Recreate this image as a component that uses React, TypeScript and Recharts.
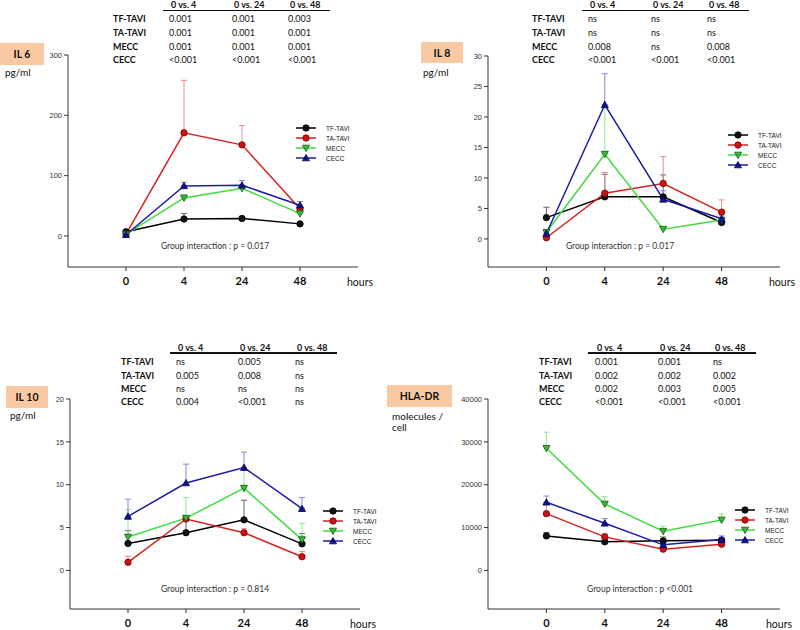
import React from 'react';
import { LineChart, Line, XAxis, YAxis, ErrorBar, Legend } from 'recharts';

// time points (hours after procedure)
const hours = ['0', '4', '24', '48'];
const groups = ['TF-TAVI', 'TA-TAVI', 'MECC', 'CECC'];
const comparisons = ['0 vs. 4', '0 vs. 24', '0 vs. 48'];

// IL 6 (pg/ml), mean and upper error
const il6TfTavi = [7, 28, 29, 20];
const il6TfTaviErr = [2, 9, 2, 2];
const il6TaTavi = [3, 171, 151, 45];
const il6TaTaviErr = [1, 87, 32, 3];
const il6Mecc = [3, 63, 79, 37];
const il6MeccErr = [1, 6, 4, 3];
const il6Cecc = [2, 83, 84, 51];
const il6CeccErr = [1, 6, 8, 6];
const il6Ticks = [0, 100, 200, 300];
const il6P = [
  ['0.001', '0.001', '0.003'],
  ['0.001', '0.001', '0.001'],
  ['0.001', '0.001', '0.001'],
  ['<0.001', '<0.001', '<0.001'],
];

// IL 8 (pg/ml)
const il8TfTavi = [3.5, 6.9, 6.9, 2.7];
const il8TfTaviErr = [1.7, 3.7, 3.6, 0.4];
const il8TaTavi = [0.2, 7.5, 9.1, 4.4];
const il8TaTaviErr = [0.2, 3.4, 4.4, 2.0];
const il8Mecc = [1.1, 13.9, 1.6, 3.1];
const il8MeccErr = [0.3, 8.0, 0.4, 0.3];
const il8Cecc = [0.9, 22.0, 6.5, 3.3];
const il8CeccErr = [0.4, 5.1, 1.4, 0.6];
const il8Ticks = [0, 5, 10, 15, 20, 25, 30];
const il8P = [
  ['ns', 'ns', 'ns'],
  ['ns', 'ns', 'ns'],
  ['0.008', 'ns', '0.008'],
  ['<0.001', '<0.001', '<0.001'],
];

// IL 10 (pg/ml)
const il10TfTavi = [3.15, 4.4, 5.9, 3.1];
const il10TfTaviErr = [1.5, 1.5, 2.3, 1.2];
const il10TaTavi = [0.95, 6.0, 4.4, 1.6];
const il10TaTaviErr = [0.7, 0.3, 0.5, 0.6];
const il10Mecc = [3.9, 6.1, 9.6, 3.6];
const il10MeccErr = [3.2, 2.4, 2.3, 1.9];
const il10Cecc = [6.3, 10.2, 12.0, 7.2];
const il10CeccErr = [2.0, 2.2, 1.8, 1.3];
const il10Ticks = [0, 5, 10, 15, 20];
const il10P = [
  ['ns', '0.005', 'ns'],
  ['0.005', '0.008', 'ns'],
  ['ns', 'ns', 'ns'],
  ['0.004', '<0.001', 'ns'],
];

// HLA-DR (molecules / cell)
const hlaTfTavi = [8060, 6670, 6900, 7050];
const hlaTfTaviErr = [800, 400, 900, 500];
const hlaTaTavi = [13250, 7830, 4960, 6120];
const hlaTaTaviErr = [2500, 800, 500, 400];
const hlaMecc = [28500, 15500, 9150, 11780];
const hlaMeccErr = [3750, 1700, 1150, 1400];
const hlaCecc = [15900, 11000, 5970, 7200];
const hlaCeccErr = [1460, 1100, 400, 860];
const hlaTicks = [0, 10000, 20000, 30000, 40000];
const hlaP = [
  ['0.001', '0.001', 'ns'],
  ['0.002', '0.002', '0.002'],
  ['0.002', '0.003', '0.005'],
  ['<0.001', '<0.001', '<0.001'],
];

const series = [
  { key: 'tf', name: groups[0], line: '#000000', err: '#666666', fill: '#111111', stroke: '#000000', shape: 'circle' },
  { key: 'ta', name: groups[1], line: '#d62222', err: '#e58f8f', fill: '#d01010', stroke: '#7a0000', shape: 'circle' },
  { key: 'mecc', name: groups[2], line: '#40dc40', err: '#94e894', fill: '#3cb83c', stroke: '#0b5e0b', shape: 'down' },
  { key: 'cecc', name: groups[3], line: '#1c1ca8', err: '#8585e0', fill: '#12128a', stroke: '#000060', shape: 'up' },
];

const makeRows = (vals: number[][], errs: number[][]) =>
  hours.map((_, i) => {
    const row: any = { t: i };
    series.forEach((s, k) => {
      row[s.key] = vals[k][i];
      row[s.key + 'Err'] = [0, errs[k][i]];
    });
    return row;
  });

const Shape = ({ shape, cx, cy, fill, stroke, size = 3.2 }: any) => {
  if (shape === 'circle') return <circle cx={cx} cy={cy} r={size} fill={fill} stroke={stroke} strokeWidth={0.8} />;
  const h = size * 1.1;
  const pts =
    shape === 'down'
      ? `${cx - h},${cy - h * 0.8} ${cx + h},${cy - h * 0.8} ${cx},${cy + h}`
      : `${cx - h},${cy + h * 0.8} ${cx + h},${cy + h * 0.8} ${cx},${cy - h}`;
  return <polygon points={pts} fill={fill} stroke={stroke} strokeWidth={0.8} />;
};

const dotFor = (s: any) => (props: any) => {
  const { cx, cy, index } = props;
  return (
    <g key={`${s.key}-${index}`}>
      <Shape shape={s.shape} cx={cx} cy={cy} fill={s.fill} stroke={s.stroke} />
    </g>
  );
};

const LegendBox = () => (
  <div style={{ fontFamily: 'Liberation Sans', fontSize: 6.5, color: '#222' }}>
    {series.map((s) => (
      <div key={s.key} style={{ display: 'flex', alignItems: 'center', height: 10 }}>
        <svg width={20} height={10} style={{ marginRight: 10 }}>
          <line x1={0} y1={5} x2={20} y2={5} stroke={s.line} strokeWidth={1.5} />
          <Shape shape={s.shape} cx={10} cy={5} fill={s.fill} stroke={s.stroke} />
        </svg>
        <span>{s.name}</span>
      </div>
    ))}
  </div>
);

const Txt = ({ x, y, children, style }: any) => (
  <div style={{ position: 'absolute', left: x, top: y - 6, height: 12, lineHeight: '12px', whiteSpace: 'nowrap', ...style }}>
    {children}
  </div>
);

const PTable = ({ labelX, colX, lineX1, lineX2, headY, lineY, rowY, values }: any) => (
  <>
    {comparisons.map((c, j) => (
      <Txt key={c} x={colX[j] + 2} y={headY} style={{ fontWeight: 700 }}>{c}</Txt>
    ))}
    <div style={{ position: 'absolute', left: lineX1, top: lineY - 0.75, width: lineX2 - lineX1, height: 1.5, background: '#111' }} />
    {groups.map((g, i) => (
      <React.Fragment key={g}>
        <Txt x={labelX} y={rowY[i]} style={{ fontWeight: 700 }}>{g}</Txt>
        {values[i].map((v: string, j: number) => (
          <Txt key={j} x={colX[j]} y={rowY[i]}>{v}</Txt>
        ))}
      </React.Fragment>
    ))}
  </>
);

const Panel = ({ left, top, rows, domain, ticks, yWidth, right, mTop, xHeight, mBottom, legendPos }: any) => (
  <div style={{ position: 'absolute', left, top }}>
    <LineChart width={400} height={315} data={rows} margin={{ top: mTop, right, left: 0, bottom: mBottom }}>
      <XAxis
        type="number"
        dataKey="t"
        domain={[-1, 4]}
        ticks={[0, 1, 2, 3]}
        interval={0}
        allowDataOverflow
        tickFormatter={(v: number) => hours[v]}
        height={xHeight}
        tickSize={4}
        tickMargin={6}
        axisLine={{ stroke: '#333' }}
        tickLine={{ stroke: '#333' }}
        tick={{ fontSize: 11, fontWeight: 700, fill: '#111', fontFamily: 'Lato' }}
      />
      <YAxis
        type="number"
        domain={domain}
        ticks={ticks}
        interval={0}
        allowDataOverflow
        width={yWidth}
        tickSize={4}
        tickMargin={2}
        axisLine={{ stroke: '#333' }}
        tickLine={{ stroke: '#333' }}
        tick={{ fontSize: 7.5, fill: '#333', fontFamily: 'Liberation Sans' }}
      />
      <Legend
        layout="vertical"
        align="center"
        verticalAlign="middle"
        content={() => <LegendBox />}
        wrapperStyle={{ left: legendPos[0], top: legendPos[1], width: 60 }}
      />
      {series.map((s) => (
        <Line
          key={s.key}
          type="linear"
          dataKey={s.key}
          name={s.name}
          stroke={s.line}
          strokeWidth={1.5}
          dot={dotFor(s)}
          activeDot={false}
          isAnimationActive={false}
        >
          <ErrorBar dataKey={s.key + 'Err'} direction="y" width={3} stroke={s.err} strokeWidth={1} />
        </Line>
      ))}
    </LineChart>
  </div>
);

const boxStyle: React.CSSProperties = {
  position: 'absolute',
  background: '#f8c9a3',
  fontWeight: 700,
  fontSize: 10.5,
  display: 'flex',
  alignItems: 'center',
  justifyContent: 'center',
};

const noteStyle: React.CSSProperties = { fontSize: 8.5, color: '#333', transform: 'translateX(-50%)' };
const hoursStyle: React.CSSProperties = { fontSize: 10.5, color: '#111' };

export default function App() {
  const il6Rows = makeRows([il6TfTavi, il6TaTavi, il6Mecc, il6Cecc], [il6TfTaviErr, il6TaTaviErr, il6MeccErr, il6CeccErr]);
  const il8Rows = makeRows([il8TfTavi, il8TaTavi, il8Mecc, il8Cecc], [il8TfTaviErr, il8TaTaviErr, il8MeccErr, il8CeccErr]);
  const il10Rows = makeRows([il10TfTavi, il10TaTavi, il10Mecc, il10Cecc], [il10TfTaviErr, il10TaTaviErr, il10MeccErr, il10CeccErr]);
  const hlaRows = makeRows([hlaTfTavi, hlaTaTavi, hlaMecc, hlaCecc], [hlaTfTaviErr, hlaTaTaviErr, hlaMeccErr, hlaCeccErr]);

  const topRows = [19, 33, 46.5, 60];
  const botRows = [362, 375.5, 389, 402];

  return (
    <div style={{ position: 'absolute', left: 0, top: 0, width: 800, height: 630, background: '#fff', overflow: 'hidden', fontFamily: 'Lato', fontSize: 9, color: '#111' }}>
      <Panel left={0} top={0} rows={il6Rows} domain={[-51.5, 300]} ticks={il6Ticks} yWidth={68} right={42} mTop={55} xHeight={30} mBottom={18} legendPos={[296, 123]} />
      <Panel left={400} top={0} rows={il8Rows} domain={[-4.6, 30]} ticks={il8Ticks} yWidth={88} right={20} mTop={56} xHeight={30} mBottom={18} legendPos={[328, 130]} />
      <Panel left={0} top={315} rows={il10Rows} domain={[-4.5, 20]} ticks={il10Ticks} yWidth={70} right={40} mTop={84} xHeight={21} mBottom={0} legendPos={[323, 191]} />
      <Panel left={400} top={315} rows={hlaRows} domain={[-9000, 40000]} ticks={hlaTicks} yWidth={88} right={20} mTop={84} xHeight={21} mBottom={0} legendPos={[335, 190]} />

      <PTable labelX={113} colX={[169, 232, 288]} lineX1={163} lineX2={330} headY={5} lineY={10.7} rowY={topRows} values={il6P} />
      <PTable labelX={532} colX={[588, 651, 707]} lineX1={582} lineX2={749} headY={5} lineY={10.7} rowY={topRows} values={il8P} />
      <PTable labelX={121} colX={[176, 238, 295]} lineX1={170} lineX2={337} headY={348} lineY={353} rowY={botRows} values={il10P} />
      <PTable labelX={539} colX={[595, 658, 713]} lineX1={588} lineX2={756} headY={348} lineY={353} rowY={botRows} values={hlaP} />

      <div style={{ ...boxStyle, left: 0, top: 43, width: 44, height: 22 }}>IL 6</div>
      <Txt x={5} y={72} style={{ fontSize: 10 }}>pg/ml</Txt>
      <div style={{ ...boxStyle, left: 421, top: 42, width: 42, height: 21 }}>IL 8</div>
      <Txt x={423} y={72} style={{ fontSize: 10 }}>pg/ml</Txt>
      <div style={{ ...boxStyle, left: 6, top: 386, width: 42, height: 22 }}>IL 10</div>
      <Txt x={10} y={415} style={{ fontSize: 10 }}>pg/ml</Txt>
      <div style={{ ...boxStyle, left: 387, top: 385, width: 65, height: 22 }}>HLA-DR</div>
      <div style={{ position: 'absolute', left: 392, top: 411, width: 60, fontSize: 10, lineHeight: '10.5px' }}>
        molecules /<br />cell
      </div>

      <Txt x={215} y={246} style={noteStyle}>Group interaction : p = 0.017</Txt>
      <Txt x={620} y={246} style={noteStyle}>Group interaction : p = 0.017</Txt>
      <Txt x={215} y={589} style={noteStyle}>Group interaction : p = 0.814</Txt>
      <Txt x={640} y={589} style={noteStyle}>Group interaction : p &lt;0.001</Txt>

      <Txt x={347} y={282} style={hoursStyle}>hours</Txt>
      <Txt x={769} y={282} style={hoursStyle}>hours</Txt>
      <Txt x={350} y={624} style={hoursStyle}>hours</Txt>
      <Txt x={766} y={624} style={hoursStyle}>hours</Txt>
    </div>
  );
}
